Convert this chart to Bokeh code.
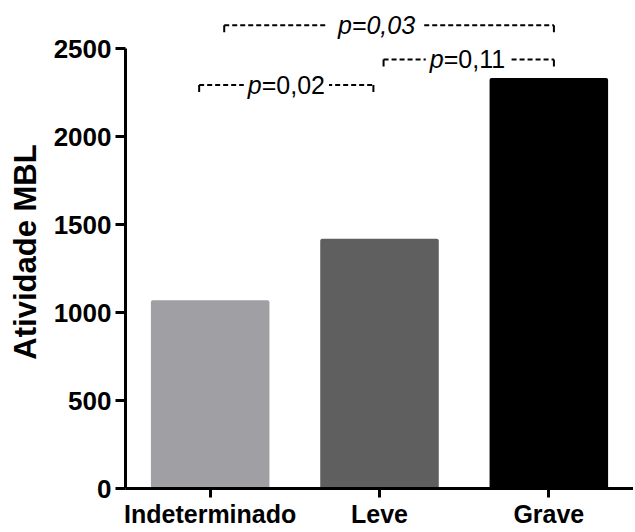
from bokeh.plotting import figure
from bokeh.models import Label, FixedTicker, Range1d
from bokeh.embed import file_html
from bokeh.resources import INLINE

# ---- data ----
categories = ["Indeterminado", "Leve", "Grave"]
values = [1070, 1420, 2335]
bar_colors = ["#a09fa4", "#5f5f5f", "#000000"]
y_ticks = [0, 500, 1000, 1500, 2000, 2500]

# statistical comparisons (bracket from group a to group b)
comp_a = ["Indeterminado", "Leve", "Indeterminado"]
comp_b = ["Leve", "Grave", "Grave"]
comp_height = [2295, 2440, 2635]
comp_prefix = ["p", "p", "p"]
comp_rest = ["=0,02", "=0,11", "=0,03"]
comp_rest_style = ["normal", "normal", "italic"]

# ---- layout / style ----
a_off = [-0.065, 0.024, 0.083]
b_off = [-0.036, 0.030, 0.030]
split_off = [-0.145, -0.148, -0.22]
gap_left = [4, 4, 12]
gap_right = [4, 4, 8]
tick_drop = 40
FONT = "Liberation Sans"

p = figure(x_range=categories, y_range=Range1d(0, 2690),
           width=633, height=530, output_backend="svg", toolbar_location=None,
           min_border_left=125, min_border_right=0, min_border_top=15, min_border_bottom=41)
p.outline_line_color = None
p.xgrid.visible = False
p.ygrid.visible = False
p.background_fill_color = "white"
p.border_fill_color = "white"

p.vbar(x=categories, top=values, width=0.70, fill_color=bar_colors, line_color=None,
       border_radius=2)

def pos(cat, off):
    return categories.index(cat) + 0.5 + off

for i in range(len(comp_a)):
    xl = pos(comp_a[i], a_off[i])
    xr = pos(comp_b[i], b_off[i])
    y = comp_height[i]
    p.segment(x0=[xl], y0=[y], x1=[xr], y1=[y], line_color="black", line_width=2,
              line_dash="5 3")
    p.segment(x0=[xl, xr], y0=[y, y], x1=[xl, xr], y1=[y - tick_drop, y - tick_drop],
              line_color="black", line_width=2)
    xm = (xl + xr) / 2 + split_off[i]
    p.add_layout(Label(x=xm, y=y, text=comp_prefix[i], text_align="right",
                       text_baseline="middle", text_font=FONT, text_font_size="25px",
                       text_font_style="italic", text_color="black",
                       background_fill_color="white",
                       padding=dict(left=gap_left[i], right=0, top=0, bottom=0)))
    p.add_layout(Label(x=xm, y=y, text=comp_rest[i], text_align="left",
                       text_baseline="middle", text_font=FONT, text_font_size="25px",
                       text_font_style=comp_rest_style[i], text_color="black",
                       background_fill_color="white",
                       padding=dict(left=0, right=gap_right[i], top=0, bottom=0)))

# axes
p.yaxis.ticker = FixedTicker(ticks=y_ticks)
p.yaxis.bounds = (0, 2500)
p.yaxis.axis_label = "Atividade MBL"
p.yaxis.axis_label_text_font = FONT
p.yaxis.axis_label_text_font_style = "bold"
p.yaxis.axis_label_text_font_size = "31px"
p.yaxis.axis_label_text_color = "black"
p.yaxis.axis_label_standoff = 8
p.yaxis.major_label_text_font = FONT
p.yaxis.major_label_text_font_style = "bold"
p.yaxis.major_label_text_font_size = "26px"
p.yaxis.major_label_text_color = "black"
p.yaxis.major_label_standoff = 4
p.yaxis.axis_line_width = 3
p.yaxis.major_tick_line_width = 3
p.yaxis.major_tick_out = 10
p.yaxis.major_tick_in = 0
p.yaxis.minor_tick_line_color = None

p.xaxis.major_label_text_font = FONT
p.xaxis.major_label_text_font_style = "bold"
p.xaxis.major_label_text_font_size = "25px"
p.xaxis.major_label_text_color = "black"
p.xaxis.major_label_standoff = 2
p.xaxis.axis_line_width = 3
p.xaxis.major_tick_line_width = 3
p.xaxis.major_tick_out = 9
p.xaxis.major_tick_in = 0

open("out.html", "w").write(file_html(p, INLINE))
